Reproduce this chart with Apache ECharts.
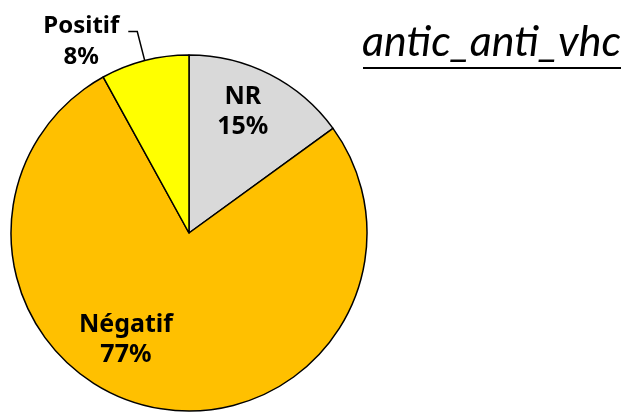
<!DOCTYPE html>
<html>
<head>
<meta charset="utf-8">
<script src="https://cdn.jsdelivr.net/npm/echarts@6/dist/echarts.min.js"></script>
<style>
  html, body { margin: 0; padding: 0; background: #fff; }
  #main { width: 631px; height: 414px; }
</style>
</head>
<body>
<div id="main"></div>
<script>
// data (percent of total)
const categories = ['NR', 'Négatif', 'Positif'];
const values = [15, 77, 8];
const colors = ['#D9D9D9', '#FFC000', '#FFFF00'];
const chartTitle = 'antic_anti_vhc';

// label nudges so the labels sit where the original puts them
const labelShift = [[12, -39], [-43, 17], [0, 10]];

const myChart = echarts.init(document.getElementById('main'));

const pieData = categories.map((name, i) => {
  const item = {
    name: name,
    value: values[i],
    itemStyle: { color: colors[i] },
  };
  if (name === 'Positif') {
    item.label = {
      position: 'outside',
      formatter: '{a|{b}}\n{a|{d}%}',
    };
    item.labelLine = { show: true, length: 30, length2: 9 };
  }
  return item;
});

const option = {
  animation: false,
  title: {
    text: chartTitle,
    right: 5,
    top: 16,
    textStyle: {
      fontFamily: 'Lato',
      fontStyle: 'italic',
      fontWeight: 'normal',
      fontSize: 43,
      color: '#000',
    },
  },
  graphic: [
    {
      // underline of the title
      type: 'line',
      shape: { x1: 363, y1: 68, x2: 621, y2: 68 },
      style: { stroke: '#000', lineWidth: 2 },
    },
  ],
  series: [
    {
      type: 'pie',
      center: [189, 233],
      radius: 178,
      startAngle: 90,
      clockwise: true,
      avoidLabelOverlap: false,
      itemStyle: { borderColor: '#000', borderWidth: 1.5 },
      label: {
        position: 'inside',
        formatter: '{b}\n{d}%',
        fontFamily: 'Noto Sans',
        fontWeight: 'bold',
        fontSize: 25,
        lineHeight: 30,
        color: '#000',
        rich: {
          a: {
            fontFamily: 'Noto Sans',
            fontWeight: 'bold',
            fontSize: 24,
            lineHeight: 31,
            width: 84,
            align: 'center',
            color: '#000',
          },
        },
      },
      labelLine: {
        lineStyle: { color: '#000', width: 1.5 },
      },
      emphasis: { disabled: true },
      labelLayout: function (params) {
        const s = labelShift[params.dataIndex];
        return { dx: s[0], dy: s[1] };
      },
      data: pieData,
    },
  ],
};

myChart.setOption(option);
</script>
</body>
</html>
